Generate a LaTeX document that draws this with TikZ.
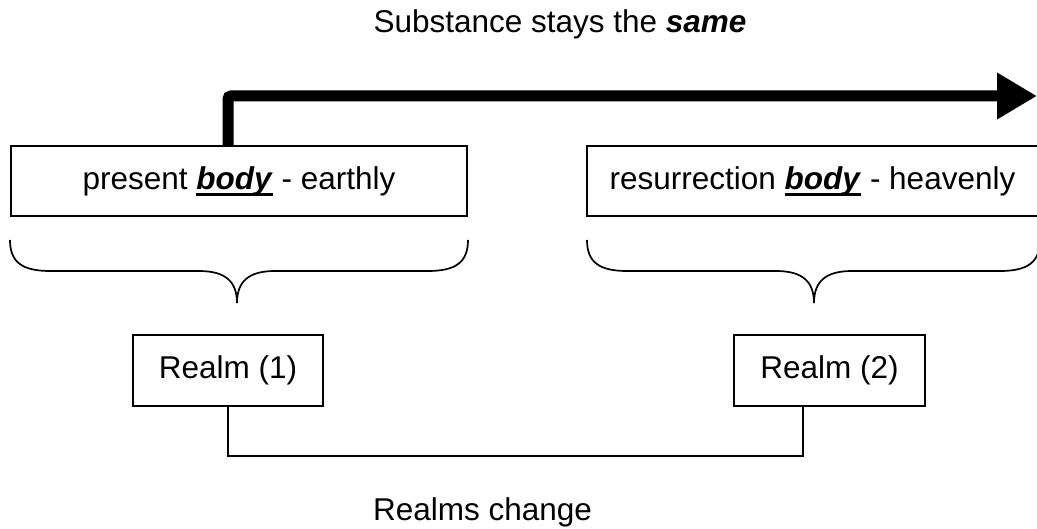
\documentclass[tikz,border=0pt]{standalone}
\usepackage{fontspec}
\setmainfont{Liberation Sans}
\usepackage{tikz}
\usetikzlibrary{arrows.meta}

\newcommand{\thickul}[1]{\setbox0=\hbox{#1}\rlap{\rule[-6.5pt]{\wd0}{3pt}}\box0\relax}

\begin{document}
\begin{tikzpicture}[x=1pt,y=-1pt,
    bigtext/.style={font=\fontsize{31.5}{38}\selectfont},
    bodybox/.style={draw, bigtext, line width=1.8pt, minimum height=70pt, inner sep=0pt},
    realmbox/.style={draw, bigtext, line width=1.6pt, minimum height=71pt, inner sep=0pt},
    bracepath/.style={line width=1.7pt},
    realmline/.style={line width=1.4pt}]
	\useasboundingbox (0,0) rectangle (1037,529);
	% Top caption
	\node[bigtext, anchor=base] (same) at (560,33) {Substance stays the \textbf{\textit{same}}};
	% Bodies
	\node[bodybox, minimum width=456pt] (present) at (239,181) {present \thickul{\textbf{\textit{body}}} - earthly};
	\node[bodybox, minimum width=451pt] (resurrection) at (812.5,181) {resurrection \thickul{\textbf{\textit{body}}} - heavenly};
	% Thick arrow
	\draw[line width=11pt, rounded corners=3pt, -{Triangle[length=40pt,width=44pt]}]
		(228,0 |- present.north) -- (228,96) -- (1037,96);
	% Braces
	\draw[bracepath] (10,240) .. controls (10,262) and (22,271) .. (50,271) -- (199,271)
		.. controls (226,271) and (237,282) .. (237,303)
		.. controls (237,282) and (248,271) .. (275,271) -- (428,271)
		.. controls (456,271) and (468,262) .. (468,240);
	\draw[bracepath] (587,240) .. controls (587,262) and (599,271) .. (627,271) -- (776,271)
		.. controls (803,271) and (814,282) .. (814,303)
		.. controls (814,282) and (825,271) .. (852,271) -- (1000,271)
		.. controls (1028,271) and (1040,262) .. (1040,240);
	% Realms
	\node[realmbox, minimum width=190pt] (realmA) at (228,370.5) {Realm (1)};
	\node[realmbox, minimum width=191pt] (realmB) at (829.5,370.5) {Realm (2)};
	\coordinate (turn) at (803,456);
	\draw[realmline] (realmA.south) |- (turn) -- (turn |- realmB.south);
	% Bottom caption
	\node[bigtext, anchor=base] (change) at (482.5,520) {Realms change};
\end{tikzpicture}
\end{document}
